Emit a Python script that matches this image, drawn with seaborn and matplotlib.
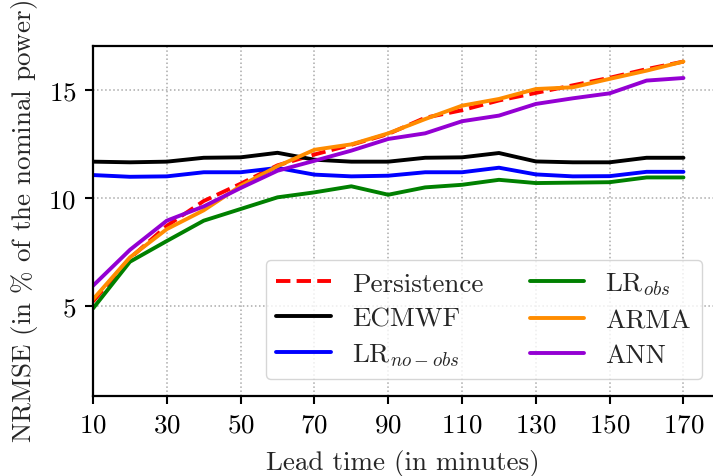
#!/usr/bin/env python3

import matplotlib
matplotlib.use("Agg")
import matplotlib.pyplot as plt
import pandas as pd
import seaborn as sns

lead_time = [10, 20, 30, 40, 50, 60, 70, 80, 90, 100, 110, 120, 130, 140, 150, 160, 170]

persistence = [5.2, 7.2, 8.7, 9.85, 10.65, 11.5, 12.0, 12.45, 12.95, 13.7, 14.05, 14.5, 14.85, 15.2, 15.55, 15.95, 16.3]
ecmwf = [11.67, 11.64, 11.67, 11.85, 11.87, 12.08, 11.76, 11.67, 11.67, 11.85, 11.87, 12.07, 11.68, 11.64, 11.64, 11.85, 11.85]
lr_no_obs = [11.05, 10.97, 10.99, 11.18, 11.18, 11.38, 11.07, 10.99, 11.02, 11.18, 11.18, 11.39, 11.08, 10.99, 11.0, 11.2, 11.2]
lr_obs = [4.88, 7.04, 8.0, 8.94, 9.48, 10.02, 10.25, 10.53, 10.14, 10.48, 10.6, 10.83, 10.68, 10.7, 10.72, 10.94, 10.94]
arma = [5.3, 7.24, 8.55, 9.42, 10.55, 11.46, 12.22, 12.47, 12.98, 13.64, 14.26, 14.57, 15.03, 15.11, 15.5, 15.88, 16.3]
ann = [5.93, 7.59, 8.94, 9.6, 10.45, 11.25, 11.71, 12.18, 12.72, 12.98, 13.54, 13.8, 14.34, 14.6, 14.83, 15.42, 15.54]

labels = ["Persistence", "ECMWF", r"LR$_{no-obs}$", r"LR$_{obs}$", "ARMA", "ANN"]
colors = ["red", "black", "blue", "green", "darkorange", "darkviolet"]
styles = ["--", "-", "-", "-", "-", "-"]

FS = 19.5


def main():
    sns.set_style("ticks")
    plt.rcParams["font.family"] = "serif"
    plt.rcParams["font.serif"] = ["cmr10"]
    plt.rcParams["mathtext.fontset"] = "cm"
    plt.rcParams["axes.formatter.use_mathtext"] = True
    plt.rcParams["font.size"] = FS

    series = [persistence, ecmwf, lr_no_obs, lr_obs, arma, ann]
    fig = plt.figure(figsize=(7.13, 4.77), dpi=100)
    ax = fig.add_axes([93 / 713, 80 / 477, 1 - 93 / 713, 350 / 477])
    for vals, lab, col, ls in zip(series, labels, colors, styles):
        df = pd.DataFrame({"t": lead_time, "v": vals})
        sns.lineplot(data=df, x="t", y="v", color=col, linestyle=ls,
                     linewidth=2.8, label=lab, ax=ax)

    ax.set_xlim(10, 178)
    ax.set_ylim(0.83, 17.02)
    ax.set_xticks(range(10, 171, 20))
    ax.set_yticks([5, 10, 15])
    ax.grid(True, linestyle=":", color="#aaaaaa", linewidth=1.1)
    ax.spines["right"].set_visible(False)
    for s in ["left", "bottom", "top"]:
        ax.spines[s].set_linewidth(1.6)
        ax.spines[s].set_color("black")
    ax.tick_params(axis="both", direction="out", length=6, width=1.5,
                   colors="black", labelsize=FS, pad=6)
    ax.set_xlabel("Lead time (in minutes)", fontsize=FS, labelpad=9)
    ax.set_ylabel(r"NRMSE (in $\%$ of the nominal power)", fontsize=FS,
                  labelpad=6)
    ax.legend(loc="lower right", ncol=2, fontsize=FS, frameon=True,
              framealpha=0.8, edgecolor="#cccccc", fancybox=True,
              labelspacing=0.4, columnspacing=1.7,
              bbox_to_anchor=(1.004, 0.01))
    fig.savefig("out.png", dpi=100)
    plt.close(fig)


if __name__ == "__main__":
    main()
